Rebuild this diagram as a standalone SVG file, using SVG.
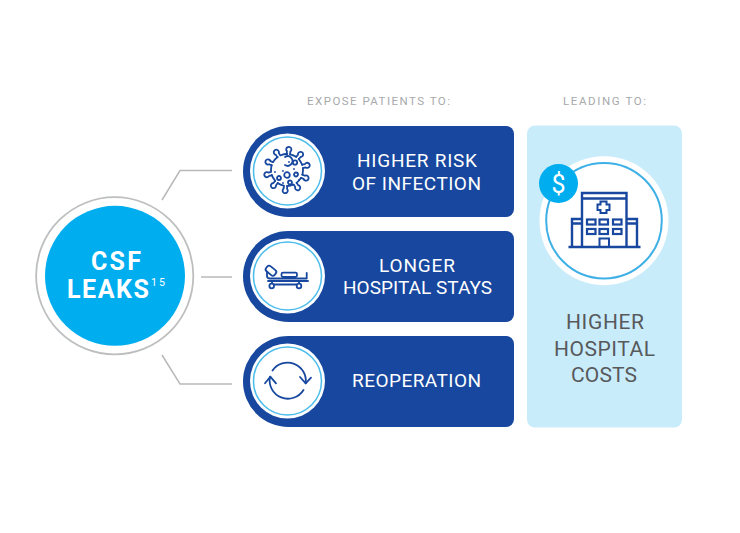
<svg xmlns="http://www.w3.org/2000/svg" xmlns:xlink="http://www.w3.org/1999/xlink" width="740" height="533" viewBox="0 0 740 533">
<style>
text{font-family:"Roboto","Liberation Sans",sans-serif}
.pill{fill:#17479e}
.wc{fill:#fff}
.ring{fill:none;stroke:#4dbdec;stroke-width:1.5}
.ic{fill:none;stroke:#17479e;stroke-width:1.8;stroke-linecap:round;stroke-linejoin:round}
.lb{fill:#fff;font-size:19px}
.hd{fill:#a7a9ac;font-size:11.5px}
.cost{fill:#58595b;font-size:21px}
.big{fill:#fff;font-size:25px;font-weight:700}
.conn{fill:none;stroke:#b9b9b9;stroke-width:1.5}
</style>
<defs>
<path id="spike" d="M-1.7,-16 V-18.700 A2.600,2.600 0 1 1 1.700,-18.700 V-16"/>
</defs>
<rect width="740" height="533" fill="#fff"/>
<text class="hd" x="307" y="105" textLength="143">EXPOSE PATIENTS TO:</text>
<text class="hd" x="563" y="105" textLength="83">LEADING TO:</text>
<g id="connectors">
<path class="conn" d="M162,200 L180,170.5 H232"/>
<path class="conn" d="M201,277 H232"/>
<path class="conn" d="M162,355 L180,384 H232"/>
</g>
<g id="csf-leaks">
<circle cx="114.7" cy="275.8" r="78.6" fill="#fff" stroke="#bcbec0" stroke-width="1.8"/>
<circle cx="115" cy="275.8" r="70" fill="#00aeef"/>
<text class="big" x="91" y="270" textLength="50">CSF</text>
<text class="big" x="67" y="298" textLength="82">LEAKS</text>
<text x="151" y="286" fill="#fff" font-size="10.5" textLength="14">15</text>
</g>
<g id="infection">
<path class="pill" d="M288.5,126 H506 a8,8 0 0 1 8,8 V209 a8,8 0 0 1 -8,8 H288.5 a45.500,45.500 0 0 1 0,-91 Z"/>
<circle class="wc" cx="287.5" cy="171" r="37.500"/>
<circle class="ring" cx="287.5" cy="171" r="34"/>
<g class="ic" transform="translate(287 170)">
<circle r="16" stroke-dasharray="6.600 3.450" transform="rotate(-79)"/>
<use xlink:href="#spike" transform="rotate(5)"/><use xlink:href="#spike" transform="rotate(41)"/><use xlink:href="#spike" transform="rotate(77)"/><use xlink:href="#spike" transform="rotate(113)"/><use xlink:href="#spike" transform="rotate(149)"/><use xlink:href="#spike" transform="rotate(185)"/><use xlink:href="#spike" transform="rotate(221)"/><use xlink:href="#spike" transform="rotate(257)"/><use xlink:href="#spike" transform="rotate(293)"/><use xlink:href="#spike" transform="rotate(329)"/>
<path d="M-2,-5 A4.800,4.800 0 1 0 -2,-13"/>
<circle cx="8" cy="-7.500" r="2.200"/><circle cx="0" cy="5" r="2.800"/><circle cx="9" cy="4.500" r="2"/><circle cx="-8" cy="8" r="2"/><circle cx="3" cy="12.500" r="2"/>
<path d="M2,-8v.1M-4,1v.1M7,-1v.1M-12,2v.1M-4,13v.1M12,10v.1"/>
</g>
<text class="lb" x="357" y="167" textLength="120">HIGHER RISK</text>
<text class="lb" x="352" y="190" textLength="129">OF INFECTION</text>
</g>
<g id="stays">
<path class="pill" d="M288.5,231 H506 a8,8 0 0 1 8,8 V314 a8,8 0 0 1 -8,8 H288.5 a45.500,45.500 0 0 1 0,-91 Z"/>
<circle class="wc" cx="287.5" cy="276" r="37.500"/>
<circle class="ring" cx="287.5" cy="276" r="34"/>
<g class="ic">
<rect x="265.500" y="267.500" width="11" height="6.500" rx="2.500" transform="rotate(40 271 270.700)"/>
<rect x="281.500" y="272.700" width="15.500" height="4.300" rx="1.500"/>
<path d="M267,272 V276 Q267,278.500 270,278.500 H306.700 V273"/>
<path d="M268,281 H308"/>
<path d="M274.500,284.500 H296.500 M272,281 V283 M299,281 V283"/>
<circle cx="271.700" cy="286" r="2.300"/><circle cx="299" cy="286" r="2.300"/>
</g>
<text class="lb" x="379" y="272" textLength="76">LONGER</text>
<text class="lb" x="343" y="294" textLength="149">HOSPITAL STAYS</text>
</g>
<g id="reoperation">
<path class="pill" d="M288.5,336 H506 a8,8 0 0 1 8,8 V419 a8,8 0 0 1 -8,8 H288.5 a45.500,45.500 0 0 1 0,-91 Z"/>
<circle class="wc" cx="287.500" cy="381" r="37.500"/>
<circle class="ring" cx="287.500" cy="381" r="34"/>
<g class="ic">
<path d="M272.500,370.500 A18.300,18.300 0 0 1 305.700,383.300"/>
<path d="M270,376.700 A18.300,18.300 0 0 0 303.500,390"/>
<path d="M265,383.300 L270.300,376.700 L276,383.300"/>
<path d="M300,377 L305.700,383.300 L311,377.700"/>
</g>
<text class="lb" x="352" y="387" textLength="129">REOPERATION</text>
</g>
<g id="costs">
<rect x="527" y="125.500" width="155" height="302" rx="8" fill="#c9ecfb"/>
<circle class="wc" cx="604" cy="220.700" r="64.500"/>
<circle cx="604" cy="220.700" r="57.800" fill="none" stroke="#3fb0e6" stroke-width="2"/>
<g fill="none" stroke="#17479e" stroke-width="2.400">
<path d="M582,247 V193 H626.500 V247 M582,198.500 H626.500 M582,219 H572 V247 M582,223.500 H572 M626.500,219 H637 V247 M626.500,223.500 H637"/>
<path d="M568.500,247 H640.500" stroke-width="2.400"/>
<path d="M600.500,201.500 h6 v3 h3 v5.500 h-3 v3 h-6 v-3 h-3 v-5.500 h3 z" stroke-width="2"/>
<path d="M599.500,247 V238.500 H609 V247" stroke-width="2"/>
<g stroke-width="2.200">
<rect x="587" y="219.500" width="8.500" height="5"/><rect x="599.500" y="219.500" width="8.500" height="5"/><rect x="613" y="219.500" width="8.500" height="5"/>
<rect x="587" y="229" width="8.500" height="5"/><rect x="599.500" y="229" width="8.500" height="5"/><rect x="613" y="229" width="8.500" height="5"/>
</g>
</g>
<circle cx="558.500" cy="183.500" r="19.500" fill="#00aeef"/>
<text x="558.500" y="192.500" fill="#fff" font-size="25" text-anchor="middle">$</text>
<text class="cost" x="566" y="329" textLength="78">HIGHER</text>
<text class="cost" x="554" y="356" textLength="101">HOSPITAL</text>
<text class="cost" x="571" y="382" textLength="66">COSTS</text>
</g>
</svg>
